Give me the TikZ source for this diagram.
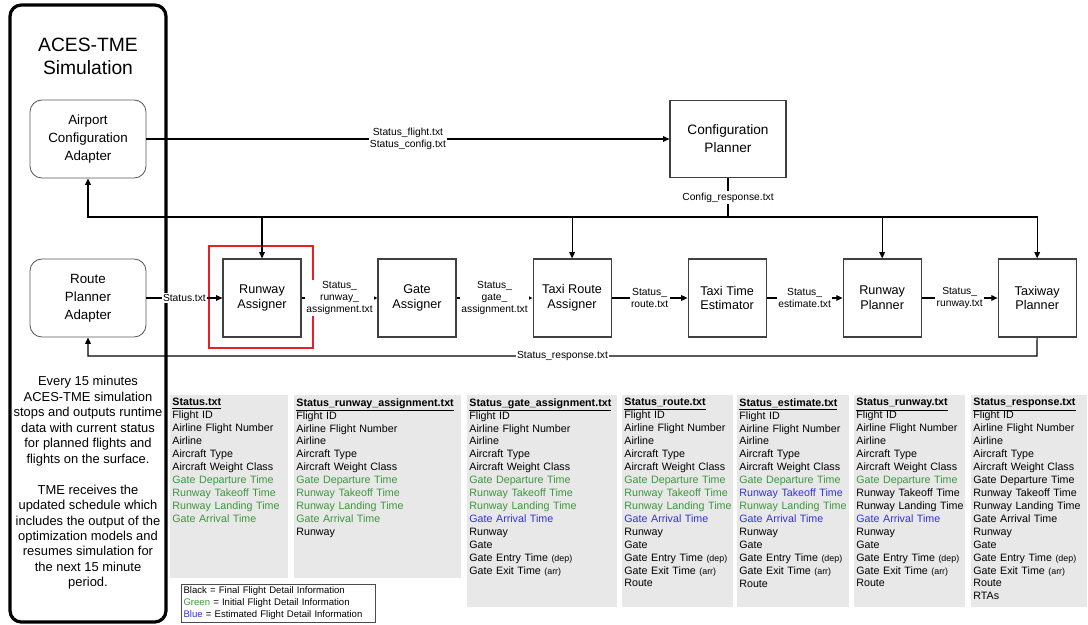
\documentclass[tikz,border=0pt]{standalone}
\usepackage{fontspec}
\setmainfont{Liberation Sans}
\usetikzlibrary{positioning,arrows.meta}
\definecolor{grn}{RGB}{60,150,60}
\definecolor{blu}{RGB}{50,50,215}
\definecolor{colbg}{RGB}{232,232,232}
\definecolor{hlred}{RGB}{232,30,40}

\begin{document}
\begin{tikzpicture}[x=0.025cm, y=-0.025cm, node distance={38.75mm}, >={Triangle[length=4.5pt,width=4pt]},
  proc/.style = {draw=black!75, line width=0.8pt, minimum width=1.95cm, minimum height=1.95cm, align=center, font=\fontsize{9}{10.6}\selectfont},
  adapt/.style = {draw=black!65, line width=0.6pt, rounded corners=0.3cm, minimum width=2.9cm, minimum height=1.95cm, align=center, font=\fontsize{9.5}{12.8}\selectfont},
  lbl/.style = {fill=white, inner sep=1pt, align=center, font=\fontsize{7.3}{8.5}\selectfont},
  info/.style = {anchor=north west, inner sep=1.5pt, text width=4.2cm, align=left, font=\fontsize{7.6}{9.2}\selectfont},
  conn/.style = {line width=0.8pt}]
\useasboundingbox (0,0) rectangle (1088,625);

% simulation side
\draw[line width=2.3pt, rounded corners=8pt] (10,5) rectangle (166,622);
\node[align=center, font=\fontsize{13.7}{16.3}\selectfont] (title) at (88,56) {ACES-TME\\Simulation};
\node[adapt] (ad1) at (88,139) {Airport\\Configuration\\Adapter};
\node[adapt] (ad2) at (88,298) {Route\\Planner\\Adapter};
\node[align=center, font=\fontsize{9.2}{11}\selectfont] (note) at (88,483) {Every 15 minutes\\ACES-TME simulation\\stops and outputs runtime\\data with current status\\for planned flights and\\flights on the surface.\\[11pt]TME receives the\\updated schedule which\\includes the output of the\\optimization models and\\resumes simulation for\\the next 15 minute\\period.};

% planners
\node[proc, minimum width=2.9cm, minimum height=1.925cm, font=\fontsize{9.7}{12.8}\selectfont] (cp) at (728,139) {Configuration\\Planner};
\node[proc] (1) at (262,298) {Runway\\Assigner};
\node[proc] (2) [right of=1] {Gate\\Assigner};
\node[proc] (3) [right of=2] {Taxi Route\\Assigner};
\node[proc] (4) [right of=3] {Taxi Time\\Estimator};
\node[proc] (5) [right of=4] {Runway\\Planner};
\node[proc] (6) [right of=5] {Taxiway\\Planner};
\node[draw=hlred, line width=2.1pt, minimum width=2.6cm, minimum height=2.55cm] (hl) at (261,297) {};

\coordinate (bus) at (728,217);
\coordinate (resp) at (1037,356);

\draw[conn,->] (ad1) -- node[lbl, pos=0.5] {Status\_flight.txt\\Status\_config.txt} (cp);
\draw[conn] (cp) -- node[lbl] {Config\_response.txt} (bus);
\draw[conn,->] (bus) -| (ad1);
\draw[conn,->] (bus) -| (6);
\draw[conn,->] (1 |- bus) -- (1);
\draw[conn,->] (3 |- bus) -- (3);
\draw[conn,->] (5 |- bus) -- (5);

\draw[conn,->] (ad2) -- node[lbl] {Status.txt} (1);
\draw[conn,->] (1) -- node[lbl] {Status\_\\runway\_\\assignment.txt} (2);
\draw[conn,->] (2) -- node[lbl] {Status\_\\gate\_\\assignment.txt} (3);
\draw[conn,->] (3) -- node[lbl] {Status\_\\route.txt} (4);
\draw[conn,->] (4) -- node[lbl] {Status\_\\estimate.txt} (5);
\draw[conn,->] (5) -- node[lbl] {Status\_\\runway.txt} (6);
\draw[conn,->] (6) -- (resp) -| node[lbl, pos=0.25] {Status\_response.txt} (ad2);

% file contents
\fill[colbg] (170,395) rectangle (288,578);
\fill[colbg] (294,395) rectangle (461,578);
\fill[colbg] (467,395) rectangle (617,607);
\fill[colbg] (622,395) rectangle (733,607);
\fill[colbg] (737,395) rectangle (849,607);
\fill[colbg] (854,395) rectangle (965,607);
\fill[colbg] (971,395) rectangle (1087,607);

\node[info] (s1) at (170,396) {\underline{\textbf{Status.txt}}\\Flight ID\\Airline Flight Number\\Airline\\Aircraft Type\\Aircraft Weight Class\\
\textcolor{grn}{Gate Departure Time}\\\textcolor{grn}{Runway Takeoff Time}\\\textcolor{grn}{Runway Landing Time}\\\textcolor{grn}{Gate Arrival Time}};
\node[info] (s2) at (294,396) {\underline{\textbf{Status\_runway\_assignment.txt}}\\Flight ID\\Airline Flight Number\\Airline\\Aircraft Type\\Aircraft Weight Class\\
\textcolor{grn}{Gate Departure Time}\\\textcolor{grn}{Runway Takeoff Time}\\\textcolor{grn}{Runway Landing Time}\\\textcolor{grn}{Gate Arrival Time}\\Runway};
\node[info] (s3) at (467,396) {\underline{\textbf{Status\_gate\_assignment.txt}}\\Flight ID\\Airline Flight Number\\Airline\\Aircraft Type\\Aircraft Weight Class\\
\textcolor{grn}{Gate Departure Time}\\\textcolor{grn}{Runway Takeoff Time}\\\textcolor{grn}{Runway Landing Time}\\\textcolor{blu}{Gate Arrival Time}\\Runway\\Gate\\
Gate Entry Time {\fontsize{6.3}{9.2}\selectfont(dep)}\\Gate Exit Time {\fontsize{6.3}{9.2}\selectfont(arr)}};
\node[info] (s4) at (622,396) {\underline{\textbf{Status\_route.txt}}\\Flight ID\\Airline Flight Number\\Airline\\Aircraft Type\\Aircraft Weight Class\\
\textcolor{grn}{Gate Departure Time}\\\textcolor{grn}{Runway Takeoff Time}\\\textcolor{grn}{Runway Landing Time}\\\textcolor{blu}{Gate Arrival Time}\\Runway\\Gate\\
Gate Entry Time {\fontsize{6.3}{9.2}\selectfont(dep)}\\Gate Exit Time {\fontsize{6.3}{9.2}\selectfont(arr)}\\Route};
\node[info] (s5) at (737,396) {\underline{\textbf{Status\_estimate.txt}}\\Flight ID\\Airline Flight Number\\Airline\\Aircraft Type\\Aircraft Weight Class\\
\textcolor{grn}{Gate Departure Time}\\\textcolor{blu}{Runway Takeoff Time}\\\textcolor{grn}{Runway Landing Time}\\\textcolor{blu}{Gate Arrival Time}\\Runway\\Gate\\
Gate Entry Time {\fontsize{6.3}{9.2}\selectfont(dep)}\\Gate Exit Time {\fontsize{6.3}{9.2}\selectfont(arr)}\\Route};
\node[info] (s6) at (854,396) {\underline{\textbf{Status\_runway.txt}}\\Flight ID\\Airline Flight Number\\Airline\\Aircraft Type\\Aircraft Weight Class\\
\textcolor{grn}{Gate Departure Time}\\Runway Takeoff Time\\Runway Landing Time\\\textcolor{blu}{Gate Arrival Time}\\Runway\\Gate\\
Gate Entry Time {\fontsize{6.3}{9.2}\selectfont(dep)}\\Gate Exit Time {\fontsize{6.3}{9.2}\selectfont(arr)}\\Route};
\node[info] (s7) at (971,396) {\underline{\textbf{Status\_response.txt}}\\Flight ID\\Airline Flight Number\\Airline\\Aircraft Type\\Aircraft Weight Class\\
Gate Departure Time\\Runway Takeoff Time\\Runway Landing Time\\Gate Arrival Time\\Runway\\Gate\\
Gate Entry Time {\fontsize{6.3}{9.2}\selectfont(dep)}\\Gate Exit Time {\fontsize{6.3}{9.2}\selectfont(arr)}\\Route\\RTAs};

\node[draw=black!70, line width=0.6pt, anchor=north west, inner sep=1.5pt, minimum height=0.95cm, text width=4.74cm, align=left, font=\fontsize{6.8}{8.5}\selectfont] (key) at (181,584) {Black = Final Flight Detail Information\\\textcolor{grn}{Green} = Initial Flight Detail Information\\\textcolor{blu}{Blue} = Estimated Flight Detail Information};

\end{tikzpicture}
\end{document}
